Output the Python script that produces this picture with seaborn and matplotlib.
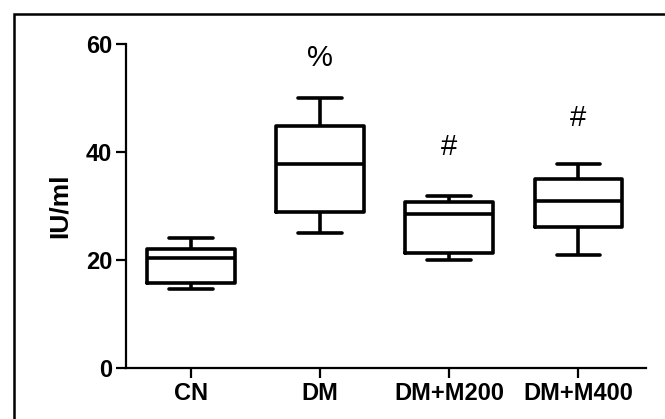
import pandas as pd
import seaborn as sns
import matplotlib.pyplot as plt
from matplotlib.patches import Rectangle

# five-number summaries (min, q1, median, q3, max)
groups = ["CN", "DM", "DM+M200", "DM+M400"]
cn = [14.6, 15.7, 20.4, 22.1, 24.1]
dm = [25.0, 28.9, 37.8, 44.8, 50.0]
dm_m200 = [20.0, 21.3, 28.6, 30.7, 31.9]
dm_m400 = [20.9, 26.1, 31.0, 35.0, 37.8]

marks = ["", "%", "#", "#"]
mark_y = [0, 57.5, 41.0, 46.3]

yticks = [0, 20, 40, 60]

df = pd.DataFrame({
    "group": [g for g, v in zip(groups, [cn, dm, dm_m200, dm_m400]) for _ in v],
    "value": cn + dm + dm_m200 + dm_m400,
})

sns.set_style("ticks")
plt.rcParams["font.family"] = ["Liberation Sans", "DejaVu Sans"]

fig = plt.figure(figsize=(6.65, 4.19), dpi=100)
ax = fig.add_axes([0.1895, 0.121, 0.7815, 0.774])

sns.boxplot(data=df, x="group", y="value", order=groups, whis=(0, 100),
            width=0.68, fill=False, color="black", linewidth=2.6, ax=ax)

for i, (m, y) in enumerate(zip(marks, mark_y)):
    if m:
        ax.text(i, y, m, ha="center", va="center", fontsize=21, color="black")

ax.set_ylim(0, 60)
ax.set_xlim(-0.5, 3.52)
ax.set_yticks(yticks)
ax.set_xlabel("")
ax.set_ylabel("IU/ml", fontsize=19, fontweight="bold", labelpad=10, color="black")
sns.despine(ax=ax)
for s in ["left", "bottom"]:
    ax.spines[s].set_linewidth(1.6)
    ax.spines[s].set_color("black")
ax.tick_params(length=7, width=1.6, labelsize=17, pad=3, color="black",
               labelcolor="black")
for lab in ax.get_xticklabels() + ax.get_yticklabels():
    lab.set_fontweight("bold")

# outer frame
fig.patches.append(Rectangle((14 / 665, -0.2), 1.2, 0.2 + 1 - 14 / 419,
                             transform=fig.transFigure, fill=False,
                             edgecolor="black", linewidth=1.8))

fig.savefig("out.png", dpi=100)
